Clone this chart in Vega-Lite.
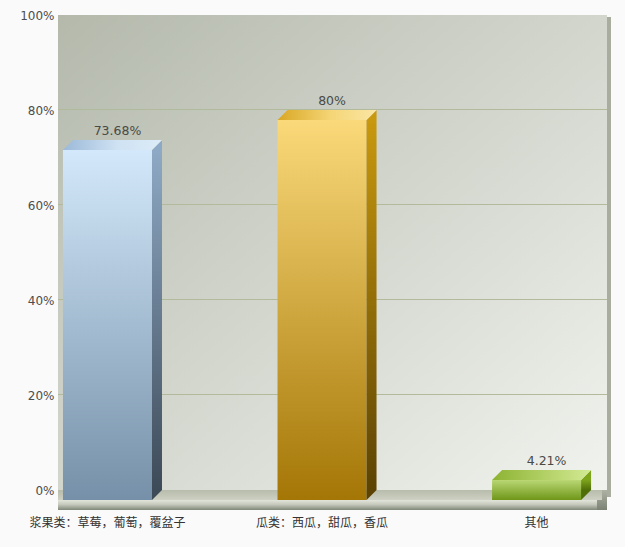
{
  "$schema": "https://vega.github.io/schema/vega-lite/v6.json",
  "width": 549,
  "height": 475,
  "autosize": {"type": "none"},
  "padding": {"left": 58, "top": 15, "right": 18, "bottom": 57},
  "background": "#fafafa",
  "config": {"view": {"stroke": null}, "axisX": {"labelAngle": 0}},
  "datasets": {
    "shares": [
      {"cat": "浆果类：草莓，葡萄，覆盆子", "pct": 73.68},
      {"cat": "瓜类：西瓜，甜瓜，香瓜", "pct": 80},
      {"cat": "其他", "pct": 4.21}
    ],
    "gridValues": [{"v": 20}, {"v": 40}, {"v": 60}, {"v": 80}],
    "frame": [{"part": "wall"}]
  },
  "data": {"name": "shares"},
  "layer": [
    {
      "data": {"name": "frame"},
      "mark": {"type": "rect", "xOffset": 4, "x2Offset": 4, "yOffset": 2, "y2Offset": 7, "fill": "#a9ad9f"},
      "encoding": {
        "y": {"datum": 100, "type": "quantitative", "scale": {"domain": [0, 100], "nice": false}},
        "y2": {"datum": 0}
      }
    },
    {
      "data": {"name": "frame"},
      "mark": {
        "type": "rect",
        "fill": {"gradient": "linear", "x1": 0, "y1": 0, "x2": 1, "y2": 1,
          "stops": [{"offset": 0, "color": "#b4b9ac"}, {"offset": 1, "color": "#f1f3ee"}]}
      },
      "encoding": {
        "y": {"datum": 100, "type": "quantitative", "scale": {"domain": [0, 100], "nice": false}},
        "y2": {"datum": 0}
      }
    },
    {
      "data": {"name": "gridValues"},
      "mark": {"type": "rule", "stroke": "#b2ba9c", "strokeWidth": 1, "yOffset": -0.5},
      "encoding": {
        "y": {"field": "v", "type": "quantitative", "scale": {"domain": [0, 100], "nice": false}}
      }
    },
    {
      "data": {"name": "frame"},
      "mark": {
        "type": "rect", "xOffset": 0, "x2Offset": -10, "yOffset": 0, "y2Offset": 20,
        "fill": {"gradient": "linear", "x1": 0, "y1": 0, "x2": 0, "y2": 1,
          "stops": [{"offset": 0, "color": "#aeb2a4"}, {"offset": 1, "color": "#7c8274"}]}
      },
      "encoding": {
        "y": {"datum": 0, "type": "quantitative", "scale": {"domain": [0, 100], "nice": false}},
        "y2": {"datum": 0}
      }
    },
    {
      "data": {"name": "frame"},
      "mark": {
        "type": "rect", "xOffset": -5, "x2Offset": -5, "yOffset": 0, "y2Offset": 10,
        "fill": {"gradient": "linear", "x1": 0, "y1": 0, "x2": 0, "y2": 1,
          "stops": [{"offset": 0, "color": "#b8bcab"}, {"offset": 1, "color": "#cdd0c3"}]}
      },
      "encoding": {
        "y": {"datum": 0, "type": "quantitative", "scale": {"domain": [0, 100], "nice": false}},
        "y2": {"datum": 0}
      }
    },
    {
      "data": {"name": "frame"},
      "mark": {
        "type": "rect", "xOffset": -10, "x2Offset": -10, "yOffset": 10, "y2Offset": 20,
        "fill": {"gradient": "linear", "x1": 0, "y1": 0, "x2": 0, "y2": 1,
          "stops": [{"offset": 0, "color": "#e3e5db"}, {"offset": 0.45, "color": "#c5c9bb"}, {"offset": 1, "color": "#80887a"}]}
      },
      "encoding": {
        "y": {"datum": 0, "type": "quantitative", "scale": {"domain": [0, 100], "nice": false}},
        "y2": {"datum": 0}
      }
    },
    {
      "transform": [{"filter": "datum.cat === '浆果类：草莓，葡萄，覆盆子'"}],
      "encoding": {
        "x": {
          "field": "cat", "type": "nominal",
          "scale": {"domain": ["浆果类：草莓，葡萄，覆盆子", "瓜类：西瓜，甜瓜，香瓜", "其他"], "paddingInner": 0.585, "paddingOuter": 0.072, "align": 0.485}
        }
      },
      "layer": [
        {
          "mark": {
            "type": "bar", "xOffset": -10, "yOffset": 10, "y2Offset": 10,
            "fill": {"gradient": "linear", "x1": 0, "y1": 0, "x2": 0, "y2": 1,
              "stops": [{"offset": 0, "color": "#d3e8fa"}, {"offset": 1, "color": "#7590a8"}]}
          },
          "encoding": {
            "y": {"field": "pct", "type": "quantitative", "scale": {"domain": [0, 100], "nice": false}},
            "y2": {"datum": 0}
          }
        },
        {
          "mark": {
            "type": "bar", "width": 10, "xOffset": 39.5, "yOffset": 10,
            "fill": {"gradient": "linear", "x1": 0, "y1": 0, "x2": 0, "y2": 1,
              "stops": [{"offset": 0, "color": "#8ea9c5"}, {"offset": 1, "color": "#3d4a58"}]}
          },
          "encoding": {
            "y": {"field": "pct", "type": "quantitative", "scale": {"domain": [0, 100], "nice": false}},
            "y2": {"datum": 0}
          }
        },
        {
          "mark": {"type": "point", "shape": "M34.5,10L44.5,0L44.5,10Z", "size": 4, "filled": true, "opacity": 1, "strokeWidth": 0, "fill": "#8ea9c5"},
          "encoding": {
            "y": {"field": "pct", "type": "quantitative", "scale": {"domain": [0, 100], "nice": false}}
          }
        },
        {
          "mark": {"type": "point", "shape": "M34.5,0L44.5,0L34.5,10Z", "size": 4, "filled": true, "opacity": 1, "strokeWidth": 0, "fill": "#3d4a58"},
          "encoding": {
            "y": {"datum": 0, "type": "quantitative", "scale": {"domain": [0, 100], "nice": false}}
          }
        },
        {
          "mark": {
            "type": "point", "shape": "M-54.5,10L34.5,10L44.5,0L-44.5,0Z", "size": 4, "filled": true, "opacity": 1, "strokeWidth": 0,
            "fill": {"gradient": "linear", "x1": 0, "y1": 0, "x2": 1, "y2": 0,
              "stops": [{"offset": 0, "color": "#9bb9d8"}, {"offset": 0.55, "color": "#cfe2f3"}, {"offset": 1, "color": "#dcebf7"}]}
          },
          "encoding": {
            "y": {"field": "pct", "type": "quantitative", "scale": {"domain": [0, 100], "nice": false}}
          }
        }
      ]
    },
    {
      "transform": [{"filter": "datum.cat === '瓜类：西瓜，甜瓜，香瓜'"}],
      "encoding": {
        "x": {
          "field": "cat", "type": "nominal",
          "scale": {"domain": ["浆果类：草莓，葡萄，覆盆子", "瓜类：西瓜，甜瓜，香瓜", "其他"], "paddingInner": 0.585, "paddingOuter": 0.072, "align": 0.485}
        }
      },
      "layer": [
        {
          "mark": {
            "type": "bar", "xOffset": -10, "yOffset": 10, "y2Offset": 10,
            "fill": {"gradient": "linear", "x1": 0, "y1": 0, "x2": 0, "y2": 1,
              "stops": [{"offset": 0, "color": "#fad97a"}, {"offset": 1, "color": "#a47606"}]}
          },
          "encoding": {
            "y": {"field": "pct", "type": "quantitative", "scale": {"domain": [0, 100], "nice": false}},
            "y2": {"datum": 0}
          }
        },
        {
          "mark": {
            "type": "bar", "width": 10, "xOffset": 39.5, "yOffset": 10,
            "fill": {"gradient": "linear", "x1": 0, "y1": 0, "x2": 0, "y2": 1,
              "stops": [{"offset": 0, "color": "#c8980e"}, {"offset": 1, "color": "#5c4303"}]}
          },
          "encoding": {
            "y": {"field": "pct", "type": "quantitative", "scale": {"domain": [0, 100], "nice": false}},
            "y2": {"datum": 0}
          }
        },
        {
          "mark": {"type": "point", "shape": "M34.5,10L44.5,0L44.5,10Z", "size": 4, "filled": true, "opacity": 1, "strokeWidth": 0, "fill": "#c8980e"},
          "encoding": {
            "y": {"field": "pct", "type": "quantitative", "scale": {"domain": [0, 100], "nice": false}}
          }
        },
        {
          "mark": {"type": "point", "shape": "M34.5,0L44.5,0L34.5,10Z", "size": 4, "filled": true, "opacity": 1, "strokeWidth": 0, "fill": "#5c4303"},
          "encoding": {
            "y": {"datum": 0, "type": "quantitative", "scale": {"domain": [0, 100], "nice": false}}
          }
        },
        {
          "mark": {
            "type": "point", "shape": "M-54.5,10L34.5,10L44.5,0L-44.5,0Z", "size": 4, "filled": true, "opacity": 1, "strokeWidth": 0,
            "fill": {"gradient": "linear", "x1": 0, "y1": 0, "x2": 1, "y2": 0,
              "stops": [{"offset": 0, "color": "#d9a723"}, {"offset": 0.55, "color": "#f5d678"}, {"offset": 1, "color": "#fae6a4"}]}
          },
          "encoding": {
            "y": {"field": "pct", "type": "quantitative", "scale": {"domain": [0, 100], "nice": false}}
          }
        }
      ]
    },
    {
      "transform": [{"filter": "datum.cat === '其他'"}],
      "encoding": {
        "x": {
          "field": "cat", "type": "nominal",
          "scale": {"domain": ["浆果类：草莓，葡萄，覆盆子", "瓜类：西瓜，甜瓜，香瓜", "其他"], "paddingInner": 0.585, "paddingOuter": 0.072, "align": 0.485}
        }
      },
      "layer": [
        {
          "mark": {
            "type": "bar", "xOffset": -10, "yOffset": 10, "y2Offset": 10,
            "fill": {"gradient": "linear", "x1": 0, "y1": 0, "x2": 0, "y2": 1,
              "stops": [{"offset": 0, "color": "#b9d774"}, {"offset": 1, "color": "#6f9618"}]}
          },
          "encoding": {
            "y": {"field": "pct", "type": "quantitative", "scale": {"domain": [0, 100], "nice": false}},
            "y2": {"datum": 0}
          }
        },
        {
          "mark": {
            "type": "bar", "width": 10, "xOffset": 39.5, "yOffset": 10,
            "fill": {"gradient": "linear", "x1": 0, "y1": 0, "x2": 0, "y2": 1,
              "stops": [{"offset": 0, "color": "#7ea41c"}, {"offset": 1, "color": "#4f6e08"}]}
          },
          "encoding": {
            "y": {"field": "pct", "type": "quantitative", "scale": {"domain": [0, 100], "nice": false}},
            "y2": {"datum": 0}
          }
        },
        {
          "mark": {"type": "point", "shape": "M34.5,10L44.5,0L44.5,10Z", "size": 4, "filled": true, "opacity": 1, "strokeWidth": 0, "fill": "#7ea41c"},
          "encoding": {
            "y": {"field": "pct", "type": "quantitative", "scale": {"domain": [0, 100], "nice": false}}
          }
        },
        {
          "mark": {"type": "point", "shape": "M34.5,0L44.5,0L34.5,10Z", "size": 4, "filled": true, "opacity": 1, "strokeWidth": 0, "fill": "#4f6e08"},
          "encoding": {
            "y": {"datum": 0, "type": "quantitative", "scale": {"domain": [0, 100], "nice": false}}
          }
        },
        {
          "mark": {
            "type": "point", "shape": "M-54.5,10L34.5,10L44.5,0L-44.5,0Z", "size": 4, "filled": true, "opacity": 1, "strokeWidth": 0,
            "fill": {"gradient": "linear", "x1": 0, "y1": 0, "x2": 1, "y2": 0,
              "stops": [{"offset": 0, "color": "#8db332"}, {"offset": 1, "color": "#d3ea94"}]}
          },
          "encoding": {
            "y": {"field": "pct", "type": "quantitative", "scale": {"domain": [0, 100], "nice": false}}
          }
        }
      ]
    },
    {
      "transform": [{"calculate": "datum.pct + '%'", "as": "txt"}],
      "mark": {"type": "text", "dy": -5.5, "baseline": "alphabetic", "font": "DejaVu Sans", "fontSize": 12.5, "fill": "#4a4a46"},
      "encoding": {
        "x": {
          "field": "cat", "type": "nominal",
          "scale": {"domain": ["浆果类：草莓，葡萄，覆盆子", "瓜类：西瓜，甜瓜，香瓜", "其他"], "paddingInner": 0.585, "paddingOuter": 0.072, "align": 0.485},
          "axis": {
            "title": null, "domain": false, "ticks": false, "tickSize": 0, "labelAngle": 0,
            "labelAlign": "center", "labelBaseline": "top", "zindex": 1, "grid": false,
            "labelPadding": 27, "labelOffset": -10, "labelFont": "Noto Sans CJK SC",
            "labelFontSize": 12, "labelColor": "#333333", "labelOverlap": false, "labelLimit": 300
          }
        },
        "y": {
          "field": "pct", "type": "quantitative", "scale": {"domain": [0, 100], "nice": false},
          "axis": {
            "title": null, "values": [0, 20, 40, 60, 80, 100], "labelExpr": "datum.value + '%'",
            "domain": false, "ticks": false, "tickSize": 0, "grid": false, "labelPadding": 4, "zindex": 1,
            "labelFont": "DejaVu Sans", "labelFontSize": 12, "labelColor": "#4d4d4d"
          }
        },
        "text": {"field": "txt"}
      }
    }
  ]
}
